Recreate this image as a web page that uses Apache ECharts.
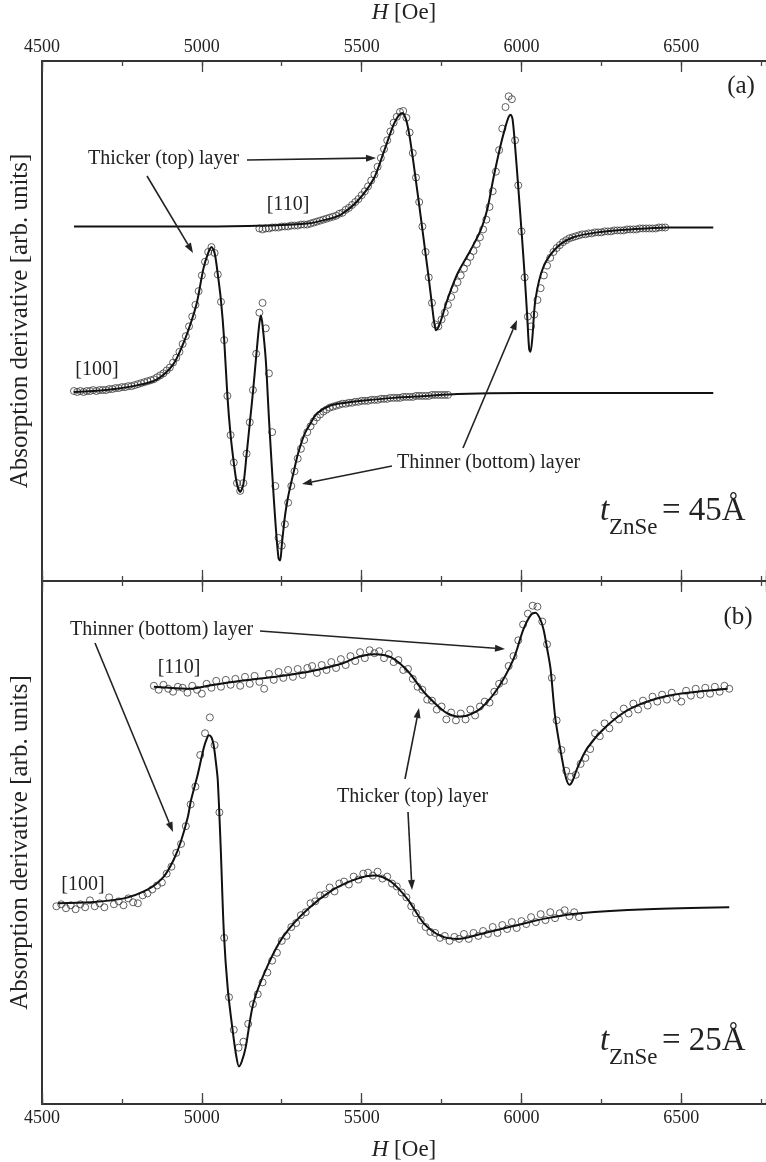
<!DOCTYPE html>
<html>
<head>
<meta charset="utf-8">
<script src="https://cdn.jsdelivr.net/npm/echarts@6/dist/echarts.min.js"></script>
<style>
  html, body { margin: 0; padding: 0; background: #fff; }
  #chart-panel { width: 766px; height: 1162px; }
</style>
</head>
<body>
<div id="chart-panel"></div>
<script>
// field axis (Oe)
var fieldMin = 4500, fieldMax = 6765;
var majorTicks = 500, minorTicks = 250;

// ---- panel (a), t = 45 A  (arb. units) ----
// fitted curves, [H, signal]
var fit100a = [[4600,1],[4700,3],[4800,8],[4860,14],[4910,29],[4940,49],[4965,71],[4985,93],[5005,127],[5020,143],[5030,149],[5040,143],[5050,121],[5060,94],[5070,54],[5080,-3],[5090,-43],[5100,-71],[5110,-93],[5120,-101],[5130,-93],[5140,-63],[5150,-31],[5160,1],[5170,37],[5180,71],[5185,79],[5190,69],[5200,34],[5210,-26],[5220,-81],[5230,-131],[5240,-169],[5245,-171],[5250,-156],[5260,-126],[5270,-106],[5280,-91],[5290,-77],[5300,-63],[5320,-43],[5340,-31],[5360,-21],[5400,-13],[5450,-10],[5500,-8],[5600,-5],[5700,-3],[5800,-1],[6000,0],[6600,0]];
var fit110a = [[4600,170],[4800,170],[5000,170],[5200,171],[5330,173],[5400,178],[5434,182],[5487,196],[5538,219],[5569,246],[5600,274],[5615,283],[5628,286],[5640,278],[5650,262],[5660,240],[5670,216],[5680,192],[5690,167],[5700,142],[5710,117],[5720,90],[5727,72],[5733,64],[5740,67],[5750,76],[5769,96],[5800,122],[5841,146],[5872,166],[5894,189],[5912,219],[5934,252],[5950,272],[5960,282],[5966,284],[5972,280],[5980,252],[5990,210],[6000,166],[6010,120],[6018,78],[6024,45],[6028,42],[6034,56],[6044,96],[6069,129],[6112,149],[6162,159],[6237,164],[6341,167],[6456,169],[6600,169]];
// measured points, sampled every 10 Oe
var start100a = 4600, step100a = 10;
var meas100a = [2,1,2,1,2,2,3,2,3,3, 3,4,4,5,5,6,6,7,7,8, 9,10,11,12,13,14,16,18,20,23,
  26,31,36,42,50,58,68,78,90,104, 120,134,144,149,143,121,93,54,-3,-43,
  -71,-92,-100,-92,-62,-30,3,40,82,92, 66,20,-40,-95,-148,-156,-134,-112,-95,-80,
  -67,-57,-48,-40,-34,-29,-25,-22,-19,-17, -15,-14,-13,-12,-11,-11,-10,-10,-9,-9,
  -8,-8,-8,-7,-7,-7,-6,-6,-6,-5, -5,-5,-5,-4,-4,-4,-4,-3,-3,-3, -3,-3,-2,-2,-2,-2,-2,-2];
var start110a = 5180, step110a = 10;
var meas110a = [168,167,168,168,169,169,169,170,170,170, 171,171,171,172,172,172,173,174,175,176,
  177,178,179,180,181,183,184,187,189,192, 195,198,202,206,211,217,223,231,240,249,
  258,267,276,282,287,288,281,266,245,220, 195,170,144,118,92,70,68,75,82,90,
  98,106,113,120,127,133,139,145,152,159, 167,177,190,206,226,248,270,292,303,300,
  258,212,165,118,78,68,80,95,107,120, 130,138,144,148,151,154,156,158,159,160,
  161,162,162,163,163,164,164,164,165,165, 165,166,166,166,166,167,167,167,167,168,
  168,168,168,168,168,169,169,169];

// ---- panel (b), t = 25 A ----
var fit100b = [[4550,0],[4653,1],[4756,5],[4831,14],[4881,27],[4912,44],[4934,62],[4956,87],[4966,104],[4987,130],[5006,157],[5015,166],[5022,170],[5030,168],[5037,160],[5045,140],[5050,124],[5059,57],[5069,-30],[5081,-86],[5097,-130],[5108,-155],[5116,-165],[5125,-160],[5137,-146],[5162,-100],[5206,-63],[5256,-33],[5331,-6],[5412,14],[5487,25],[5538,28],[5591,22],[5644,4],[5694,-20],[5747,-33],[5800,-36],[5872,-31],[5975,-23],[6081,-15],[6184,-10],[6394,-6],[6650,-4]];
var fit110b = [[4850,219],[4966,217],[5019,220],[5122,225],[5225,229],[5331,234],[5434,242],[5487,249],[5538,252],[5591,249],[5644,235],[5694,214],[5747,197],[5769,192],[5800,189],[5830,190],[5872,197],[5925,217],[5975,247],[6006,277],[6030,292],[6044,294],[6058,288],[6069,277],[6080,258],[6091,237],[6106,187],[6128,144],[6140,126],[6150,120],[6160,124],[6175,137],[6206,157],[6269,180],[6341,197],[6444,209],[6550,214],[6645,217]];
var start100b = 4545, step100b = 15;
var meas100b = [-3,-1,-5,-2,-6,-1,-4,3,-3,0, -4,6,-1,2,-2,5,1,0,8,10,
  14,18,21,30,37,51,60,78,100,118, 150,172,188,160,92,-35,-95,-128,-146,-140,
  -122,-102,-92,-80,-70,-58,-50,-38,-33,-24, -20,-12,-9,0,2,8,9,16,12,20,
  22,19,27,24,30,31,28,32,25,27, 20,17,11,6,-3,-10,-17,-24,-29,-30,
  -35,-33,-38,-34,-36,-31,-36,-30,-33,-28, -31,-24,-30,-22,-26,-19,-25,-18,-21,-14,
  -19,-11,-17,-9,-15,-10,-7,-13,-9,-14];
var start110b = 4850, step110b = 15;
var meas110b = [220,216,221,217,214,219,218,213,220,216, 212,222,218,225,219,226,221,227,220,229,
  222,230,224,217,232,226,234,228,236,229, 237,231,238,240,233,241,236,244,238,247,
  241,250,245,254,248,256,253,255,248,252, 244,246,236,237,227,219,216,206,205,196,
  199,186,193,185,192,186,196,190,199,204, 203,214,222,225,240,250,266,282,293,301,
  300,285,262,228,185,155,134,128,130,141, 147,156,172,169,182,177,190,186,197,192,
  202,196,205,200,209,204,211,206,213,208, 204,215,210,217,211,218,212,219,214,220, 217];

function sampled(start, step, vals) {
  return vals.map(function (v, i) { return [start + i * step, v]; });
}

var serif = '"Liberation Serif", "Times New Roman", serif';
var ink = '#222';

function xAx(grid, pos, major, labels) {
  var ax = {
    type: 'value', gridIndex: grid, position: pos,
    min: fieldMin, max: fieldMax, interval: major ? majorTicks : minorTicks,
    axisLine: { show: major, onZero: false, lineStyle: { color: '#333', width: 2 } },
    axisTick: { show: true, inside: true, length: major ? 11 : 5, lineStyle: { color: '#444', width: 1.3 } },
    axisLabel: { show: labels, showMaxLabel: false, margin: 5, color: ink, fontFamily: serif, fontSize: 18,
      formatter: function (v) { return String(v); } },
    splitLine: { show: false }
  };
  if (labels) {
    ax.name = '{i|H} [Oe]';
    ax.nameLocation = 'middle';
    ax.nameGap = pos == 'top' ? 37 : 34;
    ax.nameTextStyle = { color: ink, fontFamily: serif, fontSize: 23, rich: { i: { fontStyle: 'italic', fontFamily: serif, fontSize: 23, color: ink } } };
  }
  return ax;
}

function yAx(grid, mn, mx) {
  return {
    type: 'value', gridIndex: grid, min: mn, max: mx,
    axisLine: { show: true, onZero: false, lineStyle: { color: '#333', width: 2 } },
    axisTick: { show: false }, axisLabel: { show: false }, splitLine: { show: false },
    name: 'Absorption derivative [arb. units]', nameLocation: 'middle', nameGap: 9,
    nameTextStyle: { color: ink, fontFamily: serif, fontSize: 25 }
  };
}

function circles(xi, data) {
  return {
    type: 'scatter', xAxisIndex: xi, yAxisIndex: xi / 4, data: data, symbol: 'circle', symbolSize: 7,
    itemStyle: { color: 'rgba(0,0,0,0)', borderColor: '#3a3a3a', borderWidth: 1 }, silent: true, z: 2
  };
}
function fit(xi, data) {
  return {
    type: 'line', xAxisIndex: xi, yAxisIndex: xi / 4, data: data, showSymbol: false, symbol: 'none',
    smooth: 0.3, lineStyle: { color: '#111', width: 2 }, silent: true, z: 3
  };
}

function label(txt, x, y, size, align, italic) {
  return {
    type: 'text', x: x, y: y, z: 10,
    style: {
      text: txt, fill: ink, font: (italic ? 'italic ' : '') + size + 'px ' + serif,
      align: align || 'left', verticalAlign: 'middle',
      textAlign: align || 'left', textVerticalAlign: 'middle'
    }
  };
}

function arrow(x1, y1, x2, y2) {
  var a = Math.atan2(y2 - y1, x2 - x1), L = 10, W = 3.5;
  var bx = x2 - L * Math.cos(a), by = y2 - L * Math.sin(a);
  return [
    { type: 'line', z: 10, shape: { x1: x1, y1: y1, x2: bx, y2: by }, style: { stroke: ink, lineWidth: 1.6 } },
    { type: 'polygon', z: 10, shape: { points: [[x2, y2], [bx - W * Math.sin(a), by + W * Math.cos(a)], [bx + W * Math.sin(a), by - W * Math.cos(a)]] }, style: { fill: ink } }
  ];
}

var notes = [
  label('Thicker (top) layer', 88, 159, 20),
  label('[110]', 288, 205, 20, 'center'),
  label('[100]', 97, 370, 20, 'center'),
  label('Thinner (bottom) layer', 397, 463, 20),
  label('(a)', 741, 86, 25, 'center'),
  label('t', 600, 511, 33, 'left', true),
  label('ZnSe', 609, 528, 23),
  label('= 45\u00c5', 662, 511, 33),
  label('Thinner (bottom) layer', 70, 630, 20),
  label('[110]', 179, 668, 20, 'center'),
  label('[100]', 83, 885, 20, 'center'),
  label('Thicker (top) layer', 337, 797, 20),
  label('(b)', 738, 617, 25, 'center'),
  label('t', 600, 1041, 33, 'left', true),
  label('ZnSe', 609, 1058, 23),
  label('= 25\u00c5', 662, 1041, 33)
].concat(
  arrow(247, 160, 376, 158), arrow(147, 176, 193, 253),
  arrow(392, 466, 302, 484), arrow(463, 448, 517, 320),
  arrow(260, 631, 505, 649), arrow(95, 643, 173, 832),
  arrow(405, 779, 419, 708), arrow(408, 812, 412, 890)
);

var myChart = echarts.init(document.getElementById('chart-panel'));
myChart.setOption({
  animation: false,
  backgroundColor: '#fff',
  grid: [
    { left: 41, top: 50, right: 0, height: 531 },
    { left: 41, top: 581, right: 0, height: 529 }
  ],
  xAxis: [
    xAx(0, 'top', true, true), xAx(0, 'top', false, false), xAx(0, 'bottom', true, false), xAx(0, 'bottom', false, false),
    xAx(1, 'top', true, false), xAx(1, 'top', false, false), xAx(1, 'bottom', true, true), xAx(1, 'bottom', false, false)
  ],
  yAxis: [yAx(0, -192, 339), yAx(1, -203, 326)],
  series: [
    circles(0, sampled(start110a, step110a, meas110a)),
    circles(0, sampled(start100a, step100a, meas100a)),
    fit(0, fit110a),
    fit(0, fit100a),
    circles(4, sampled(start110b, step110b, meas110b)),
    circles(4, sampled(start100b, step100b, meas100b)),
    fit(4, fit110b),
    fit(4, fit100b)
  ],
  graphic: notes
});
</script>
</body>
</html>
